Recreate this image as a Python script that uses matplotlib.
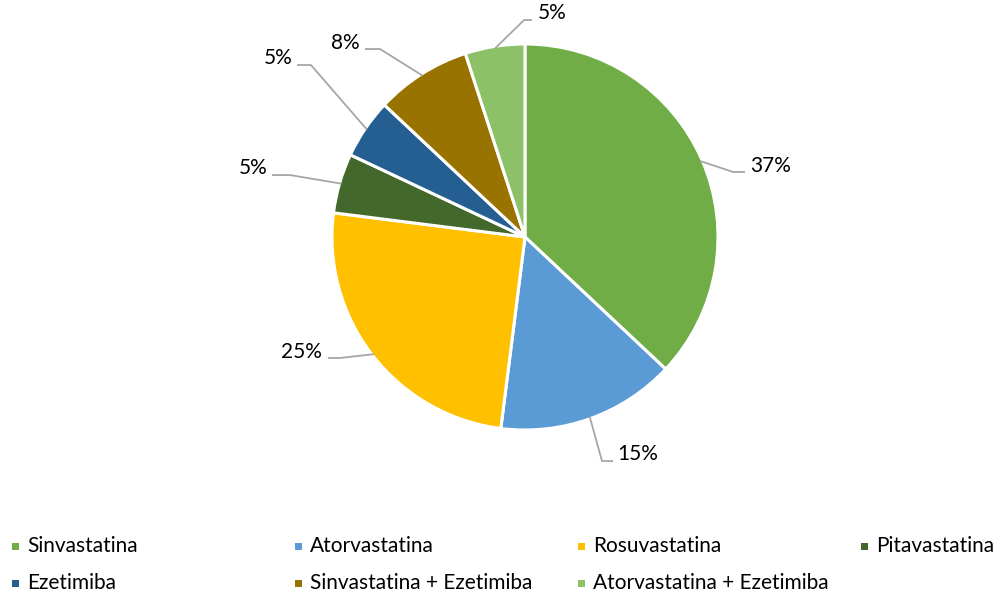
import matplotlib
matplotlib.use("Agg")
import matplotlib.pyplot as plt
import numpy as np

categories = ["Sinvastatina", "Atorvastatina", "Rosuvastatina", "Pitavastatina",
              "Ezetimiba", "Sinvastatina + Ezetimiba", "Atorvastatina + Ezetimiba"]
values = [37, 15, 25, 5, 5, 8, 5]
labels = ["37%", "15%", "25%", "5%", "5%", "8%", "5%"]
colors = ["#70AD47", "#5B9BD5", "#FFC000", "#43682B", "#255E91", "#997300", "#8CC168"]

# label layout (elbow, line end, text pos, ha) in pie-radius units
label_layout = [
    ((1.078, 0.337), (1.14, 0.337), (1.166, 0.370), "left"),
    ((0.399, -1.161), (0.456, -1.161), (0.477, -1.122), "left"),
    ((-0.959, -0.627), (-1.021, -0.627), (-1.052, -0.596), "right"),
    ((-1.218, 0.321), (-1.311, 0.321), (-1.332, 0.358), "right"),
    ((-1.109, 0.891), (-1.181, 0.891), (-1.207, 0.927), "right"),
    ((-0.751, 0.974), (-0.829, 0.974), (-0.855, 1.003), "right"),
    ((-0.005, 1.124), (0.036, 1.124), (0.067, 1.160), "left"),
]

plt.rcParams['font.family'] = ['Lato', 'DejaVu Sans']
W, H = 1001, 598
fig = plt.figure(figsize=(W / 100, H / 100), dpi=100)
ax = fig.add_axes([0, 0, 1, 1])
cx, cy, R = 525, 237, 193

wedges, _ = ax.pie(values, colors=colors, startangle=90, counterclock=False, radius=1,
                   wedgeprops=dict(edgecolor="white", linewidth=2.2))
ax.set_aspect("auto")
ax.set_xlim((0 - cx) / R, (W - cx) / R)
ax.set_ylim((cy - H) / R, cy / R)
ax.axis("off")

total = sum(values)
cum = 0
for v, lab, (elb, end, tpos, ha) in zip(values, labels, label_layout):
    mid = 90 - (cum + v / 2) / total * 360
    cum += v
    sx, sy = np.cos(np.radians(mid)) * 0.99, np.sin(np.radians(mid)) * 0.99
    ax.plot([sx, elb[0], end[0]], [sy, elb[1], end[1]], color="#A6A6A6", lw=1.3,
            solid_capstyle="butt", zorder=3, clip_on=False)
    ax.text(tpos[0], tpos[1], lab, ha=ha, va="center", fontsize=15, color="#000000")

# legend
col_x = [12, 295, 578, 861]
row_y = [546, 583]
for i, (cat, col) in enumerate(zip(categories, colors)):
    r, c = divmod(i, 4)
    x = col_x[c]
    y = row_y[r]
    fig.patches.append(plt.Rectangle((x / W, 1 - (y + 3.5) / H), 7 / W, 7 / H,
                                     transform=fig.transFigure, facecolor=col,
                                     edgecolor="none"))
    fig.text((x + 15) / W, 1 - y / H, cat, ha="left", va="center", fontsize=15,
             color="#000000")

fig.savefig("out.png", dpi=100)
